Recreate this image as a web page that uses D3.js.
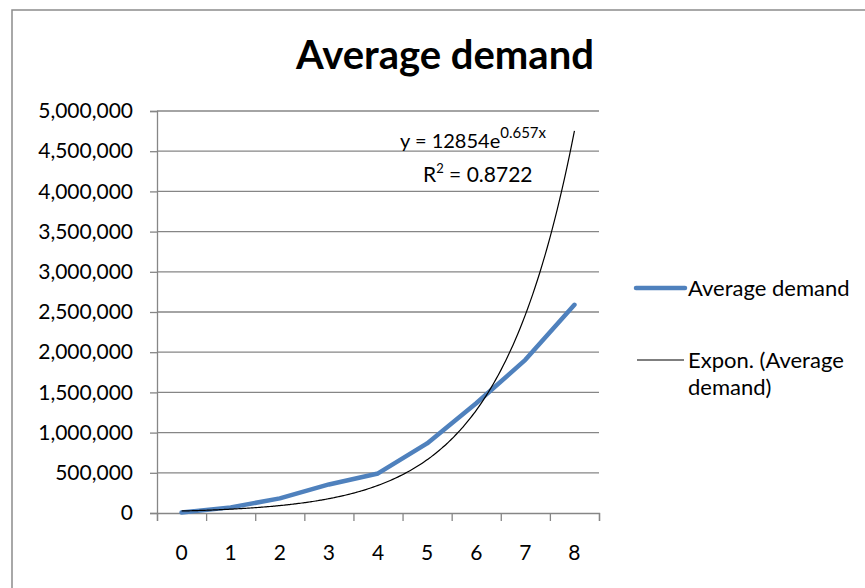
<!DOCTYPE html>
<html>
<head>
<meta charset="utf-8">
<script src="https://cdn.jsdelivr.net/npm/d3@7"></script>
<style>
  html, body { margin: 0; padding: 0; background: #fff; }
  svg { display: block; font-family: Lato, "Open Sans", sans-serif; }
</style>
</head>
<body>
<svg id="chart" width="865" height="588"></svg>
<script>
// Category labels and average demand per period
const categories = ["0", "1", "2", "3", "4", "5", "6", "7", "8"];
const demand = [5500, 70000, 182000, 355000, 492000, 865000, 1365000, 1905000, 2590000];

// Value axis ticks
const yTicks = [0, 500000, 1000000, 1500000, 2000000, 2500000, 3000000, 3500000, 4000000, 4500000, 5000000];

// Exponential trendline coefficients, as shown in its label: y = a·e^(b·x), x = 1..n
const trendA = 12854;
const trendB = 0.657;
const trendR2 = 0.8722;

const svg = d3.select("#chart");
const plot = { left: 157, right: 599, top: 111, bottom: 513 };
const gridColor = "#868686";
const blue = "#4F81BD";

// Chart frame
svg.append("rect")
  .attr("x", 12).attr("y", 10)
  .attr("width", 900).attr("height", 700)
  .attr("fill", "#fff")
  .attr("stroke", "#8c8c8c").attr("stroke-width", 1.5);

// Title
svg.append("text")
  .attr("x", 445).attr("y", 69)
  .attr("text-anchor", "middle")
  .attr("font-size", 40).attr("font-weight", "bold")
  .attr("fill", "#000")
  .text("Average demand");

const x = d3.scaleBand().domain(categories).range([plot.left, plot.right]).paddingInner(0).paddingOuter(0);
const y = d3.scaleLinear().domain([0, 5000000]).range([plot.bottom, plot.top]);
// Continuous position for category index (1-based, as used by the trendline)
const xi = d3.scaleLinear().domain([1, categories.length])
  .range([x(categories[0]) + x.bandwidth() / 2, x(categories[categories.length - 1]) + x.bandwidth() / 2]);

// Horizontal gridlines
svg.append("g").selectAll("line").data(yTicks.filter(d => d > 0)).join("line")
  .attr("x1", plot.left).attr("x2", plot.right)
  .attr("y1", d => y(d)).attr("y2", d => y(d))
  .attr("stroke", gridColor).attr("stroke-width", 1.3);

// Value axis
const yAxis = svg.append("g")
  .attr("transform", `translate(${plot.left},0)`)
  .call(d3.axisLeft(y).tickValues(yTicks).tickSize(7).tickPadding(17).tickFormat(d3.format(",")));
yAxis.select(".domain").attr("stroke", gridColor).attr("stroke-width", 1.3);
yAxis.selectAll(".tick line").attr("stroke", gridColor).attr("stroke-width", 1.3);
yAxis.selectAll("text").attr("font-size", 21).attr("fill", "#000").attr("font-family", "Lato, sans-serif");

// Category axis: tick marks between categories
const boundaries = d3.range(categories.length + 1);
const xEdge = d3.scaleLinear().domain([0, categories.length]).range([plot.left, plot.right]);
const xTicks = svg.append("g")
  .attr("transform", `translate(0,${plot.bottom})`)
  .call(d3.axisBottom(xEdge).tickValues(boundaries).tickSize(8).tickFormat(""));
xTicks.select(".domain").attr("stroke", gridColor).attr("stroke-width", 1.3);
xTicks.selectAll(".tick line").attr("stroke", gridColor).attr("stroke-width", 1.3);

// Category labels at band centres
const xLabels = svg.append("g")
  .attr("transform", `translate(0,${plot.bottom})`)
  .call(d3.axisBottom(x).tickSize(0).tickPadding(32));
xLabels.select(".domain").remove();
xLabels.selectAll("text").attr("font-size", 21).attr("fill", "#000").attr("font-family", "Lato, sans-serif");

// Average demand line
const line = d3.line()
  .x((d, i) => x(categories[i]) + x.bandwidth() / 2)
  .y(d => y(d));
svg.append("path")
  .datum(demand)
  .attr("d", line)
  .attr("fill", "none")
  .attr("stroke", blue)
  .attr("stroke-width", 4.5)
  .attr("stroke-linejoin", "round")
  .attr("stroke-linecap", "round");

// Exponential trendline
const trendPts = d3.range(1, categories.length + 0.001, 0.05).map(t => [t, trendA * Math.exp(trendB * t)]);
svg.append("path")
  .datum(trendPts)
  .attr("d", d3.line().x(d => xi(d[0])).y(d => y(d[1])).curve(d3.curveMonotoneX))
  .attr("fill", "none")
  .attr("stroke", "#000")
  .attr("stroke-width", 1.2);

// Trendline equation label
const eq = svg.append("text")
  .attr("x", 400).attr("y", 148)
  .attr("font-size", 20).attr("fill", "#000");
eq.append("tspan").text(`y = ${trendA}e`);
eq.append("tspan").attr("dy", -10).attr("font-size", 15).text(`${trendB}x`);

const r2 = svg.append("text")
  .attr("x", 423).attr("y", 182)
  .attr("font-size", 21).attr("fill", "#000");
r2.append("tspan").text("R");
r2.append("tspan").attr("dy", -9).attr("font-size", 13).text("2");
r2.append("tspan").attr("dy", 9).text(` = ${trendR2}`);

// Legend
const legend = svg.append("g");
legend.append("line")
  .attr("x1", 636).attr("x2", 685).attr("y1", 288).attr("y2", 288)
  .attr("stroke", blue).attr("stroke-width", 4.5).attr("stroke-linecap", "round");
legend.append("text")
  .attr("x", 688).attr("y", 295.5)
  .attr("font-size", 22).attr("fill", "#000")
  .text("Average demand");
legend.append("line")
  .attr("x1", 637).attr("x2", 684).attr("y1", 360).attr("y2", 360)
  .attr("stroke", "#000").attr("stroke-width", 1.2);
const leg2 = legend.append("text")
  .attr("x", 688).attr("y", 368)
  .attr("font-size", 22).attr("fill", "#000");
leg2.append("tspan").attr("x", 688).text("Expon. (Average");
leg2.append("tspan").attr("x", 688).attr("dy", 27).text("demand)");
</script>
</body>
</html>
